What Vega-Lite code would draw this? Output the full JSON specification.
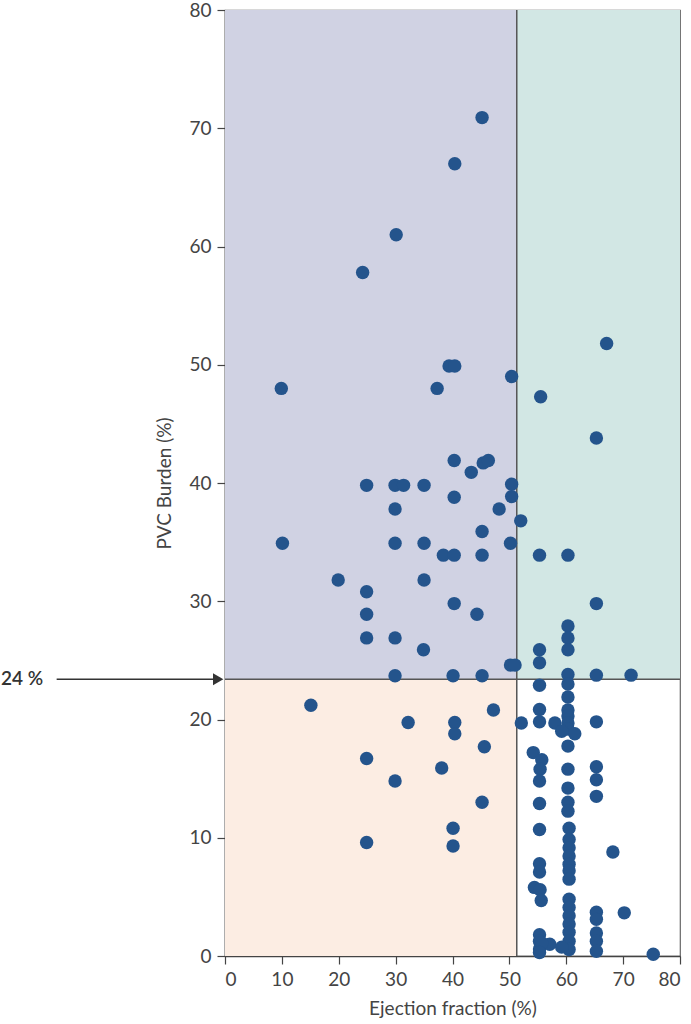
{
  "$schema": "https://vega.github.io/schema/vega-lite/v6.json",
  "width": 455,
  "height": 946,
  "autosize": {"type": "none"},
  "padding": {"left": 225, "top": 10, "right": 11, "bottom": 68},
  "background": "white",
  "config": {
    "view": {"stroke": "#666", "strokeWidth": 1.2},
    "font": "Lato",
    "axis": {
      "labelFont": "Lato", "labelFontSize": 19, "labelColor": "#444",
      "titleFont": "Lato", "titleFontSize": 19, "titleFontWeight": "normal", "titleColor": "#444",
      "domainColor": "#444", "domainWidth": 1.5, "tickColor": "#444", "tickWidth": 1.2, "tickSize": 8,
      "grid": false
    }
  },
  "datasets": {
    "regions": [
      {"region": "A", "x0": 0, "x1": 51.3, "y0": 23.4, "y1": 80},
      {"region": "B", "x0": 51.3, "x1": 80, "y0": 23.4, "y1": 80},
      {"region": "C", "x0": 0, "x1": 51.3, "y0": 0, "y1": 23.4}
    ],
    "vline": [{"x": 51.3, "y0": 0, "y1": 80}],
    "hline": [{"y": 23.4, "x0": 0, "x1": 80}],
    "annot": [{"x0": -29.6, "x1": -1.2, "y": 23.4, "tx": -39.4, "label": "24 %"}],
    "points": [
      {"ef": 45.2, "pvc": 70.9}, {"ef": 40.4, "pvc": 67.0}, {"ef": 30.1, "pvc": 61.0}, {"ef": 24.2, "pvc": 57.8},
      {"ef": 67.1, "pvc": 51.8}, {"ef": 9.9, "pvc": 48.0}, {"ef": 37.3, "pvc": 48.0}, {"ef": 39.4, "pvc": 49.9},
      {"ef": 40.4, "pvc": 49.9}, {"ef": 50.4, "pvc": 49.0}, {"ef": 55.5, "pvc": 47.3}, {"ef": 65.3, "pvc": 43.8},
      {"ef": 40.3, "pvc": 41.9}, {"ef": 43.3, "pvc": 40.9}, {"ef": 45.4, "pvc": 41.7}, {"ef": 46.3, "pvc": 41.9},
      {"ef": 24.9, "pvc": 39.8}, {"ef": 29.9, "pvc": 39.8}, {"ef": 31.4, "pvc": 39.8}, {"ef": 35.0, "pvc": 39.8},
      {"ef": 50.4, "pvc": 39.9}, {"ef": 40.3, "pvc": 38.8}, {"ef": 50.4, "pvc": 38.85}, {"ef": 48.2, "pvc": 37.8},
      {"ef": 29.9, "pvc": 37.8}, {"ef": 52.0, "pvc": 36.8}, {"ef": 45.2, "pvc": 35.9}, {"ef": 10.1, "pvc": 34.9},
      {"ef": 29.9, "pvc": 34.9}, {"ef": 35.0, "pvc": 34.9}, {"ef": 50.2, "pvc": 34.9}, {"ef": 38.4, "pvc": 33.9},
      {"ef": 40.3, "pvc": 33.9}, {"ef": 45.2, "pvc": 33.9}, {"ef": 55.3, "pvc": 33.9}, {"ef": 60.3, "pvc": 33.9},
      {"ef": 19.9, "pvc": 31.8}, {"ef": 35.0, "pvc": 31.8}, {"ef": 24.9, "pvc": 30.8}, {"ef": 40.3, "pvc": 29.8},
      {"ef": 65.3, "pvc": 29.8}, {"ef": 44.3, "pvc": 28.9}, {"ef": 24.9, "pvc": 28.9}, {"ef": 60.3, "pvc": 27.9},
      {"ef": 24.9, "pvc": 26.9}, {"ef": 29.9, "pvc": 26.9}, {"ef": 60.3, "pvc": 26.9}, {"ef": 34.9, "pvc": 25.9},
      {"ef": 55.3, "pvc": 25.9}, {"ef": 60.3, "pvc": 25.9}, {"ef": 55.3, "pvc": 24.8}, {"ef": 50.2, "pvc": 24.6},
      {"ef": 51.0, "pvc": 24.6}, {"ef": 29.9, "pvc": 23.7}, {"ef": 40.1, "pvc": 23.7}, {"ef": 45.2, "pvc": 23.7},
      {"ef": 60.3, "pvc": 23.8}, {"ef": 65.3, "pvc": 23.75}, {"ef": 71.4, "pvc": 23.75}, {"ef": 60.3, "pvc": 23.0},
      {"ef": 55.3, "pvc": 22.9}, {"ef": 60.3, "pvc": 21.9}, {"ef": 15.1, "pvc": 21.2}, {"ef": 47.2, "pvc": 20.8},
      {"ef": 55.3, "pvc": 20.85}, {"ef": 60.3, "pvc": 20.8}, {"ef": 60.3, "pvc": 20.3}, {"ef": 32.2, "pvc": 19.75},
      {"ef": 40.4, "pvc": 19.75}, {"ef": 52.1, "pvc": 19.7}, {"ef": 55.3, "pvc": 19.8}, {"ef": 58.0, "pvc": 19.7},
      {"ef": 60.3, "pvc": 19.7}, {"ef": 65.3, "pvc": 19.8}, {"ef": 60.3, "pvc": 19.2}, {"ef": 59.2, "pvc": 19.0},
      {"ef": 61.5, "pvc": 18.8}, {"ef": 40.4, "pvc": 18.8}, {"ef": 60.3, "pvc": 17.75}, {"ef": 45.6, "pvc": 17.7},
      {"ef": 54.2, "pvc": 17.2}, {"ef": 55.7, "pvc": 16.6}, {"ef": 24.9, "pvc": 16.7}, {"ef": 38.1, "pvc": 15.9},
      {"ef": 55.4, "pvc": 15.8}, {"ef": 60.3, "pvc": 15.8}, {"ef": 65.3, "pvc": 16.0}, {"ef": 29.9, "pvc": 14.8},
      {"ef": 55.3, "pvc": 14.8}, {"ef": 65.3, "pvc": 14.9}, {"ef": 60.3, "pvc": 14.2}, {"ef": 65.3, "pvc": 13.5},
      {"ef": 45.2, "pvc": 13.0}, {"ef": 55.3, "pvc": 12.9}, {"ef": 60.3, "pvc": 13.0}, {"ef": 60.3, "pvc": 12.25},
      {"ef": 40.1, "pvc": 10.8}, {"ef": 55.3, "pvc": 10.7}, {"ef": 60.5, "pvc": 10.8}, {"ef": 24.9, "pvc": 9.6},
      {"ef": 40.1, "pvc": 9.3}, {"ef": 60.5, "pvc": 9.85}, {"ef": 60.5, "pvc": 9.15}, {"ef": 60.5, "pvc": 8.45},
      {"ef": 68.2, "pvc": 8.8}, {"ef": 55.3, "pvc": 7.8}, {"ef": 60.5, "pvc": 7.75}, {"ef": 55.3, "pvc": 7.1},
      {"ef": 60.5, "pvc": 7.2}, {"ef": 60.5, "pvc": 6.5}, {"ef": 54.4, "pvc": 5.8}, {"ef": 55.4, "pvc": 5.6},
      {"ef": 55.6, "pvc": 4.7}, {"ef": 60.5, "pvc": 4.8}, {"ef": 60.5, "pvc": 4.1}, {"ef": 60.5, "pvc": 3.4},
      {"ef": 65.3, "pvc": 3.7}, {"ef": 65.3, "pvc": 3.1}, {"ef": 70.2, "pvc": 3.65}, {"ef": 60.5, "pvc": 2.7},
      {"ef": 60.5, "pvc": 2.0}, {"ef": 65.3, "pvc": 1.95}, {"ef": 60.5, "pvc": 1.25}, {"ef": 65.3, "pvc": 1.25},
      {"ef": 55.3, "pvc": 1.8}, {"ef": 55.3, "pvc": 1.25}, {"ef": 55.3, "pvc": 0.6}, {"ef": 57.1, "pvc": 1.0},
      {"ef": 55.7, "pvc": 1.1}, {"ef": 60.5, "pvc": 0.55}, {"ef": 59.2, "pvc": 0.75}, {"ef": 65.3, "pvc": 0.4},
      {"ef": 75.3, "pvc": 0.15}, {"ef": 55.3, "pvc": 0.3}
    ]
  },
  "layer": [
    {
      "data": {"name": "regions"},
      "mark": {"type": "rect"},
      "encoding": {
        "x": {"field": "x0", "type": "quantitative", "scale": {"domain": [0, 80], "nice": false},
              "axis": {"values": [0, 10, 20, 30, 40, 50, 60, 70, 80], "title": "Ejection fraction (%)", "titlePadding": 10, "labelPadding": 6}},
        "x2": {"field": "x1"},
        "y": {"field": "y0", "type": "quantitative", "scale": {"domain": [0, 80], "nice": false},
              "axis": {"values": [0, 10, 20, 30, 40, 50, 60, 70, 80], "title": "PVC Burden (%)", "titlePadding": 14, "labelPadding": 6}},
        "y2": {"field": "y1"},
        "color": {"field": "region", "type": "nominal", "legend": null,
                  "scale": {"domain": ["A", "B", "C"], "range": ["#d0d2e3", "#d2e7e4", "#fcede3"]}}
      }
    },
    {
      "data": {"name": "vline"},
      "mark": {"type": "rule", "color": "#555", "strokeWidth": 1.5},
      "encoding": {
        "x": {"field": "x", "type": "quantitative"},
        "y": {"field": "y0", "type": "quantitative"},
        "y2": {"field": "y1"}
      }
    },
    {
      "data": {"name": "hline"},
      "mark": {"type": "rule", "color": "#555", "strokeWidth": 1.5},
      "encoding": {
        "y": {"field": "y", "type": "quantitative"},
        "x": {"field": "x0", "type": "quantitative"},
        "x2": {"field": "x1"}
      }
    },
    {
      "data": {"name": "points"},
      "mark": {"type": "circle", "size": 180, "color": "#24548c", "opacity": 1},
      "encoding": {
        "x": {"field": "ef", "type": "quantitative"},
        "y": {"field": "pvc", "type": "quantitative"}
      }
    },
    {
      "data": {"name": "annot"},
      "mark": {"type": "rule", "color": "#333", "strokeWidth": 1.5},
      "encoding": {
        "y": {"field": "y", "type": "quantitative"},
        "x": {"field": "x0", "type": "quantitative"},
        "x2": {"field": "x1"}
      }
    },
    {
      "data": {"name": "annot"},
      "mark": {"type": "point", "shape": "triangle-right", "filled": true, "size": 144, "color": "#333", "opacity": 1},
      "encoding": {
        "y": {"field": "y", "type": "quantitative"},
        "x": {"field": "x1", "type": "quantitative"}
      }
    },
    {
      "data": {"name": "annot"},
      "mark": {"type": "text", "align": "left", "baseline": "middle", "font": "Lato", "fontSize": 19, "fontWeight": 600, "color": "#333"},
      "encoding": {
        "y": {"field": "y", "type": "quantitative"},
        "x": {"field": "tx", "type": "quantitative"},
        "text": {"field": "label"}
      }
    }
  ]
}
